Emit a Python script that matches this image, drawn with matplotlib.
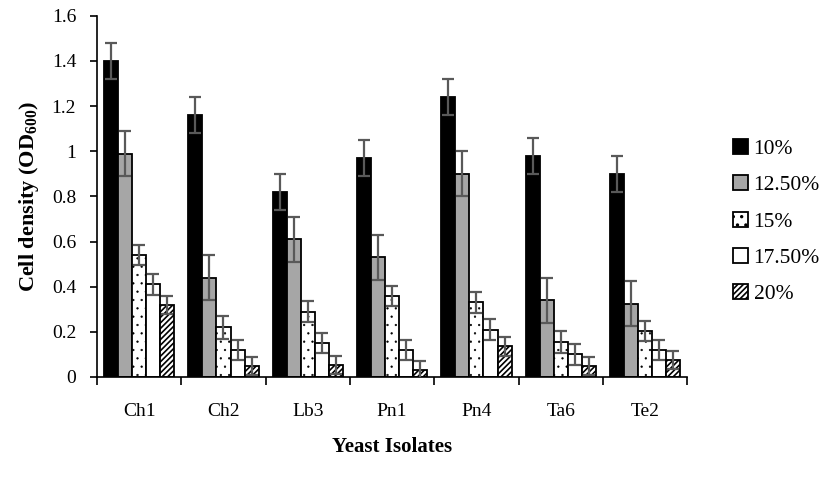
import numpy as np
import matplotlib.pyplot as plt

plt.rcParams['font.family'] = ['Liberation Serif', 'DejaVu Serif']
plt.rcParams['mathtext.fontset'] = 'custom'
plt.rcParams['mathtext.rm'] = 'Liberation Serif'
plt.rcParams['mathtext.bf'] = 'Liberation Serif:bold'
plt.rcParams['hatch.linewidth'] = 1.2

isolates = ['Ch1', 'Ch2', 'Lb3', 'Pn1', 'Pn4', 'Ta6', 'Te2']
series = ['10%', '12.50%', '15%', '17.50%', '20%']

v10 = [1.40, 1.16, 0.82, 0.97, 1.24, 0.98, 0.90]
v125 = [0.99, 0.44, 0.61, 0.53, 0.90, 0.34, 0.325]
v15 = [0.54, 0.22, 0.29, 0.36, 0.33, 0.155, 0.205]
v175 = [0.41, 0.12, 0.15, 0.12, 0.21, 0.10, 0.12]
v20 = [0.32, 0.05, 0.055, 0.03, 0.135, 0.05, 0.075]

e10 = [0.08, 0.08, 0.08, 0.08, 0.08, 0.08, 0.08]
e125 = [0.10, 0.10, 0.10, 0.10, 0.10, 0.10, 0.10]
e15 = [0.045, 0.05, 0.045, 0.045, 0.045, 0.05, 0.045]
e175 = [0.045, 0.045, 0.045, 0.045, 0.045, 0.045, 0.045]
e20 = [0.04, 0.04, 0.04, 0.04, 0.04, 0.04, 0.04]

values = [v10, v125, v15, v175, v20]
errors = [e10, e125, e15, e175, e20]
colors = ['black', '#a6a6a6', 'white', 'white', 'white']
hatches = [None, None, '..', None, '//////']

fig = plt.figure(figsize=(8.22, 4.79), dpi=100)
ax = fig.add_axes([0.118, 0.213, 0.718, 0.754])

x = np.arange(len(isolates))
w = 0.167
for i, (vals, errs) in enumerate(zip(values, errors)):
    pos = x + (i - 2) * w
    bars = ax.bar(pos, vals, w, color=colors[i], edgecolor='black', linewidth=1.3,
                  hatch=hatches[i], label=series[i], zorder=2)
    if hatches[i] == '..':
        for b in bars:
            if hasattr(b, 'set_hatch_linewidth'):
                b.set_hatch_linewidth(0.4)
    ax.errorbar(pos, vals, yerr=errs, fmt='none', ecolor='#595959',
                elinewidth=1.6, capsize=4, capthick=1.6, zorder=3)

ax.set_xlim(-0.5, len(isolates) - 0.5)
ax.set_ylim(0, 1.6)
ax.set_yticks([0, 0.2, 0.4, 0.6, 0.8, 1.0, 1.2, 1.4, 1.6])
ax.set_yticklabels(['0', '0.2', '0.4', '0.6', '0.8', '1', '1.2', '1.4', '1.6'])

ax.set_xticks(np.arange(len(isolates) + 1) - 0.5)
ax.set_xticklabels([])
ax.set_xticks(x, minor=True)
ax.set_xticklabels(isolates, minor=True)
ax.tick_params(axis='x', which='major', length=6, width=1.2)
ax.tick_params(axis='x', which='minor', length=0, pad=19, labelsize=14)
ax.tick_params(axis='y', length=5, width=1.2, labelsize=14, pad=10)

for s in ['top', 'right']:
    ax.spines[s].set_visible(False)
for s in ['left', 'bottom']:
    ax.spines[s].set_linewidth(1.2)

ax.set_ylabel(r'Cell density (OD$_{\mathbf{600}}$)', fontsize=16,
              fontweight='bold', labelpad=8)
ax.set_xlabel('Yeast Isolates', fontsize=15, fontweight='bold', labelpad=12)

ax.legend(loc='center left', bbox_to_anchor=(1.045, 0.43), frameon=False,
          fontsize=15.5, handlelength=0.7, handleheight=0.7, handletextpad=0.25,
          labelspacing=0.75)

fig.savefig('out.png', dpi=100)
